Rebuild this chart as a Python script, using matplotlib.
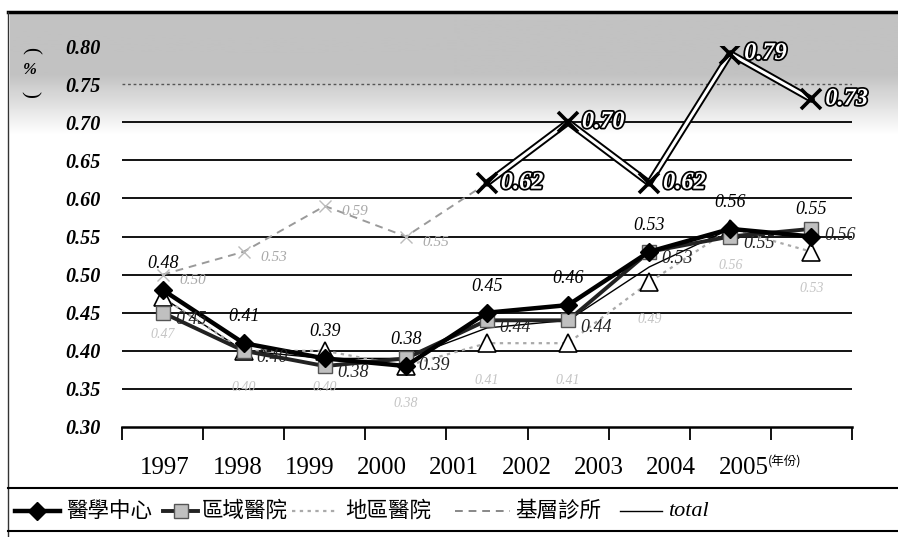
import matplotlib
matplotlib.use('Agg')
import matplotlib.pyplot as plt
import matplotlib.patheffects as pe
import numpy as np

plt.rcParams['font.family'] = ['Liberation Serif', 'Noto Sans CJK TC', 'DejaVu Sans']

years = ['1997', '1998', '1999', '2000', '2001', '2002', '2003', '2004', '2005']
med_center = [0.48, 0.41, 0.39, 0.38, 0.45, 0.46, 0.53, 0.56, 0.55]
regional = [0.45, 0.40, 0.38, 0.39, 0.44, 0.44, 0.53, 0.55, 0.56]
district = [0.47, 0.40, 0.40, 0.38, 0.41, 0.41, 0.49, 0.56, 0.53]
clinic = [0.50, 0.53, 0.59, 0.55, 0.62, 0.70, 0.62, 0.79, 0.73]
total = [0.47, 0.40, 0.39, 0.39, 0.43, 0.44, 0.51, 0.56, 0.55]
yticks = [0.30, 0.35, 0.40, 0.45, 0.50, 0.55, 0.60, 0.65, 0.70, 0.75, 0.80]
names = ['醫學中心', '區域醫院', '地區醫院', '基層診所', 'total']

W, H = 898, 537
fig = plt.figure(figsize=(W / 100, H / 100), dpi=100)

# background layer in pixel units (y down)
bg = fig.add_axes([0, 0, 1, 1], zorder=-1)
bg.set_xlim(0, W)
bg.set_ylim(H, 0)
bg.axis('off')
grad = np.concatenate([np.full(60, 0.76), np.linspace(0.76, 1.0, 60)])[:, None]
bg.imshow(grad, extent=[10, W, 135, 12], cmap='gray', vmin=0, vmax=1,
          aspect='auto')
bg.plot([8, W], [12, 12], color='black', lw=2.5)
bg.plot([8, 8], [12, H], color='#333333', lw=1)
bg.plot([8, W], [488, 488], color='black', lw=1.5)
bg.plot([8, W], [531, 531], color='black', lw=1.5)

# unit label
bg.text(30, 50, '(', rotation=-90, ha='center', va='center', fontsize=15)
bg.text(30, 70, '%', ha='center', va='center', fontsize=12, fontweight='bold',
        fontstyle='italic')
bg.text(30, 94, ')', rotation=-90, ha='center', va='center', fontsize=15)

ax = fig.add_axes([122 / W, 1 - 427 / H, 730 / W, (427 - 46) / H])
ax.set_facecolor('none')
x = np.arange(len(years))
ax.set_xlim(-0.5, len(years) - 0.5)
ax.set_ylim(0.30, 0.80)

for v in yticks[1:-2]:
    ax.axhline(v, color='black', lw=1.3, zorder=1)
ax.axhline(yticks[-2], color='#555555', lw=1, ls=(0, (2, 2)), zorder=1)

ax.set_yticks(yticks)
ax.set_yticklabels([f'{v:.2f}' for v in yticks], fontsize=14.5,
                   fontweight='bold', fontstyle='italic')
ax.tick_params(axis='y', length=0, pad=15)
ax.set_xticks(np.arange(-0.5, len(years), 1.0))
ax.set_xticklabels([])
ax.tick_params(axis='x', direction='out', length=9, width=1.3)
for s in ['left', 'right', 'top']:
    ax.spines[s].set_visible(False)
ax.spines['bottom'].set_linewidth(1.8)

# series
ax.plot(x, total, color='black', lw=1, zorder=2)
ax.plot(x, district, color='#aaaaaa', lw=1.6, ls=(0, (1.5, 2)), marker='^',
        ms=13, mfc='white', mec='black', mew=1.2, zorder=3)
ax.plot(x, regional, color='#222222', lw=2.8, marker='s', ms=10,
        mfc='#c0c0c0', mec='#555555', zorder=4)
ax.plot(x, med_center, color='black', lw=3.2, marker='D', ms=9,
        mfc='black', mec='black', zorder=5)
ax.plot(x[:5], clinic[:5], color='#9a9a9a', lw=1.4, ls=(0, (4, 3)), marker='x',
        ms=9, mew=1, mec='#bbbbbb', zorder=3)
ax.plot(x[4:], clinic[4:], color='black', lw=5, zorder=6,
        solid_capstyle='round')
ax.plot(x[4:], clinic[4:], color='white', lw=2.2, zorder=7,
        solid_capstyle='round')
ax.plot(x[4:], clinic[4:], ls='none', marker='x', ms=15, mew=2.6,
        mec='black', zorder=8)

# data labels
lab = dict(fontsize=13, fontstyle='italic', textcoords='offset points')
for xi, v in zip(x, med_center):
    ax.annotate(f'{v:.2f}', (xi, v), xytext=(0, 13), ha='center', va='bottom',
                color='black', zorder=9, **lab)
for xi, v in zip(x, regional):
    ax.annotate(f'{v:.2f}', (xi, v), xytext=(9, -5), ha='left', va='center',
                color='#222222', zorder=9, **lab)
for xi, v in zip(x, district):
    ax.annotate(f'{v:.2f}', (xi, v), xytext=(0, -22), ha='center', va='top',
                color='#c4c4c4', fontsize=10, fontstyle='italic',
                textcoords='offset points', zorder=9)
for xi, v in zip(x[:4], clinic[:4]):
    ax.annotate(f'{v:.2f}', (xi, v), xytext=(12, -4), ha='left', va='center',
                color='#a8a8a8', fontsize=11, fontstyle='italic',
                textcoords='offset points', zorder=9)
for xi, v in zip(x[4:], clinic[4:]):
    ax.annotate(f'{v:.2f}', (xi, v), xytext=(10, 0), ha='left', va='center',
                color='white', fontsize=17.5, fontweight='bold', fontstyle='italic',
                textcoords='offset points', zorder=9,
                path_effects=[pe.withStroke(linewidth=2.5, foreground='black')])

# year row
for i, yr in enumerate(years):
    bg.text(165 + i * 72.3, 468, yr, ha='center', va='center', fontsize=18)
bg.text(768, 462, '(年份)', ha='left', va='center', fontsize=9,
        family=['Noto Sans CJK TC'])

# legend row
ly = 511
cjk = dict(fontsize=15.5, va='center', ha='left', family=['Noto Sans CJK TC'])
bg.plot([15, 60], [ly, ly], color='black', lw=3.2)
bg.plot([37], [ly], marker='D', ms=9, color='black')
bg.text(66, ly, names[0], **cjk)
bg.plot([163, 198], [ly, ly], color='#222222', lw=2.8)
bg.plot([181], [ly], marker='s', ms=10, mfc='#c0c0c0', mec='#555555')
bg.text(202, ly, names[1], **cjk)
bg.plot([292, 335], [ly, ly], color='#aaaaaa', lw=1.6, ls=(0, (1.5, 2)))
bg.text(345, ly, names[2], **cjk)
bg.plot([455, 510], [ly, ly], color='#888888', lw=1.4, ls=(0, (4, 3)))
bg.text(515, ly, names[3], **cjk)
bg.plot([620, 662], [ly, ly], color='black', lw=1)
bg.text(668, ly, names[4], fontsize=16, fontstyle='italic', va='center',
        ha='left')

fig.savefig('out.png', dpi=100)
